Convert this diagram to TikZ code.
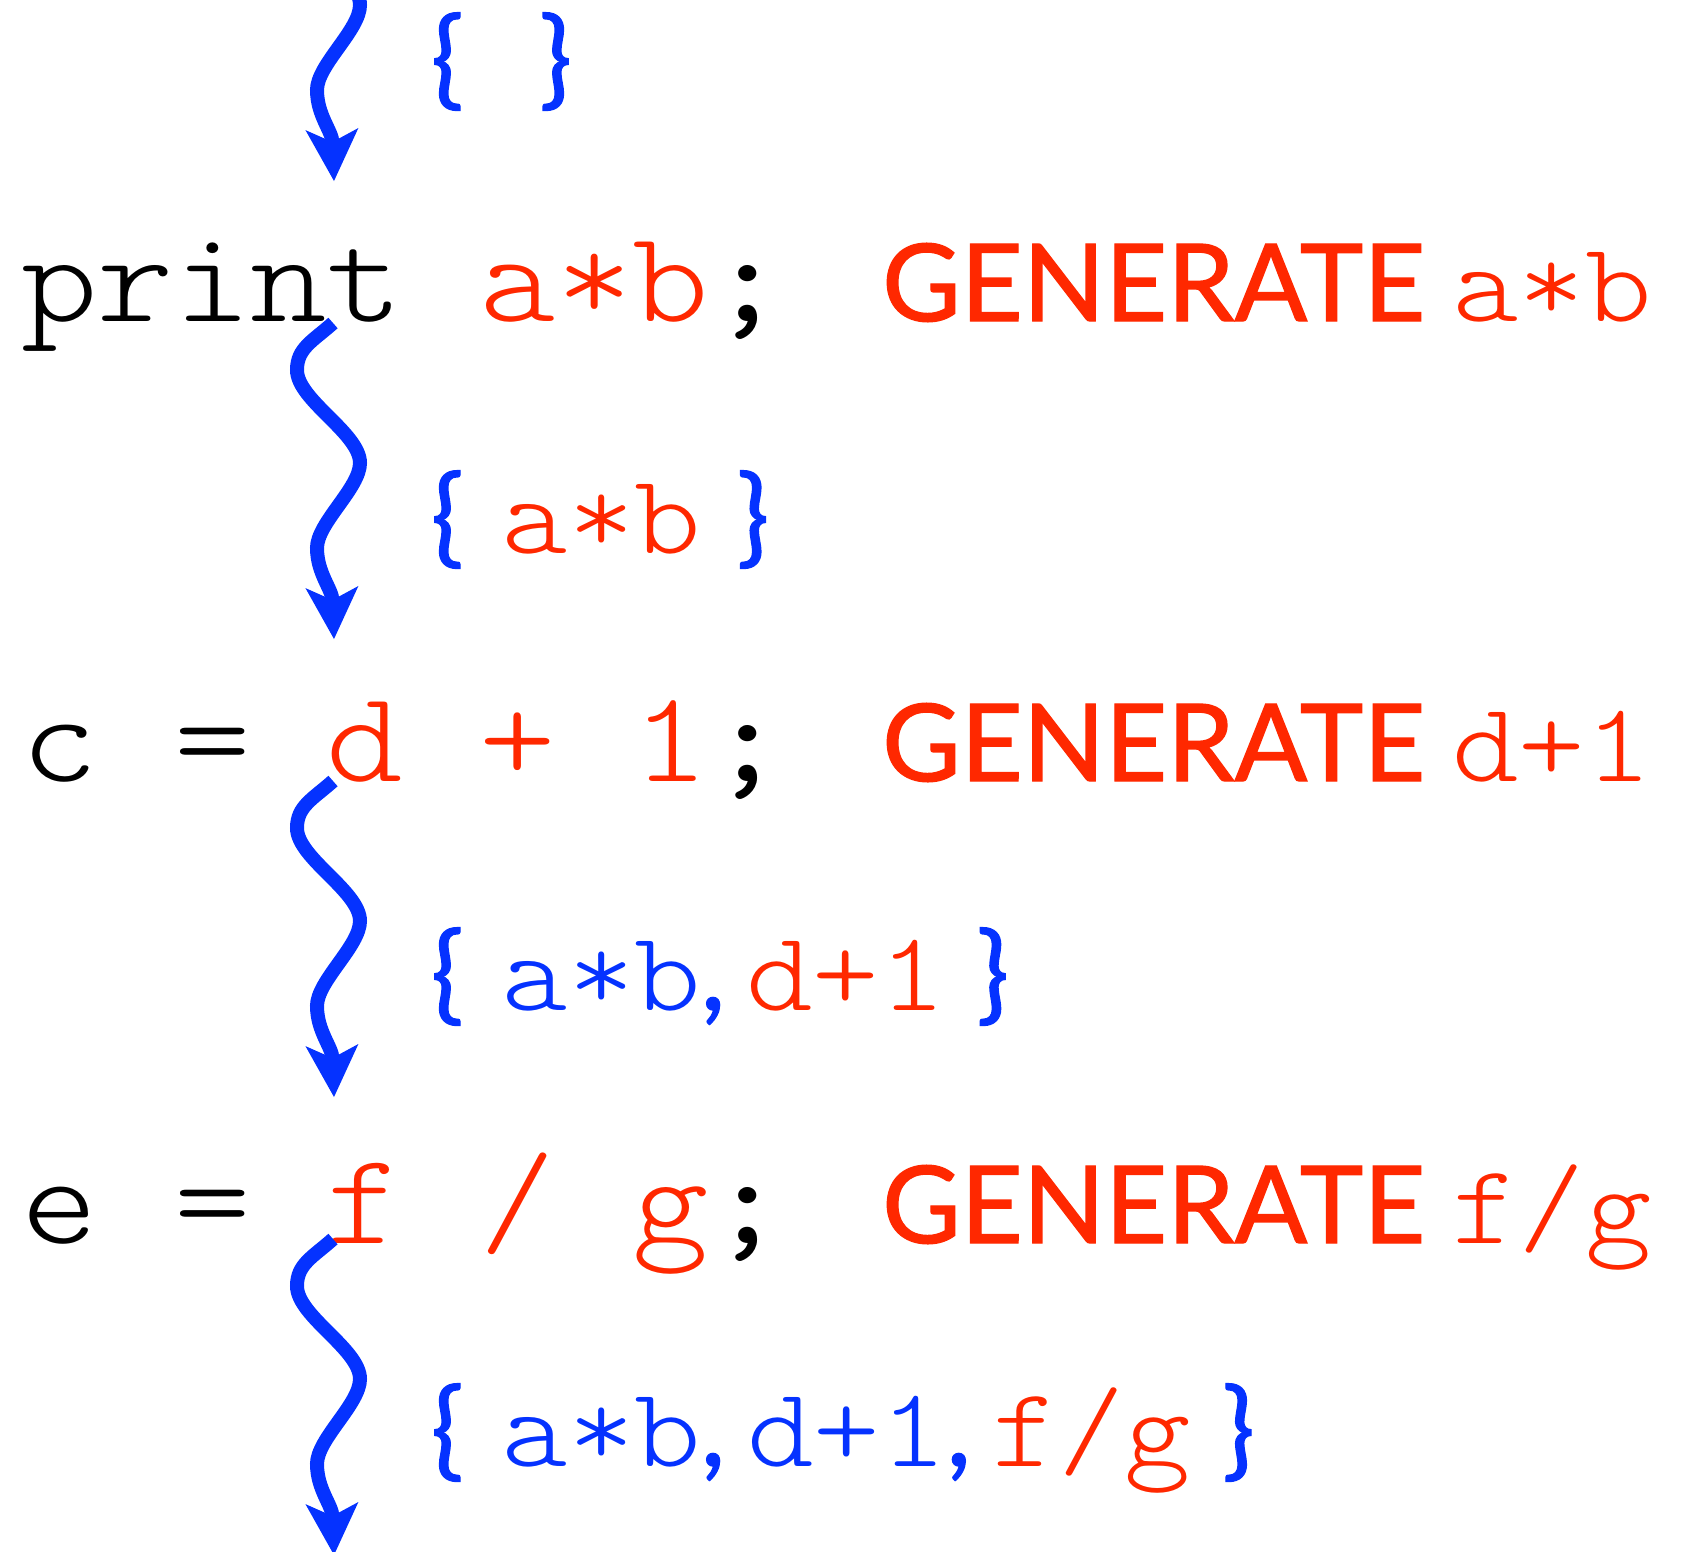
\documentclass[tikz,border=0pt]{standalone}
\usepackage{fontspec}
\usetikzlibrary{arrows.meta}
\newfontfamily\codefont[FakeStretch=1.12]{lmmonolt10-regular.otf}
\newfontfamily\punctfont[FakeStretch=1.12]{lmmono10-regular.otf}
\newfontfamily\gensans[FakeBold=1.2]{Lato}
\definecolor{flowblue}{RGB}{5,50,255}
\definecolor{exprred}{RGB}{255,40,0}
\newcommand\codeterm[1]{{\codefont\fontsize{113}{113}\selectfont #1}}

\begin{document}
\begin{tikzpicture}[x=1pt, y=-1pt,
  code/.style={font=\codefont\fontsize{130}{130}\selectfont, inner sep=0pt, anchor=base west},
  term/.style={font=\codefont\fontsize{113}{113}\selectfont, text=exprred, inner sep=0pt, anchor=base west},
  gen/.style={font=\gensans\fontsize{107.5}{107.5}\selectfont, text=exprred, inner sep=0pt, anchor=base west},
  avail/.style={font=\gensans\fontsize{107.5}{107.5}\selectfont, text=flowblue, inner sep=0pt, anchor=base west},
  flow/.style={draw=flowblue, line width=14pt, -{Stealth[length=52pt, width=53pt, inset=13pt, line width=0pt]}}
]
\useasboundingbox (0,0) rectangle (1682,1551);

\node[code] (row1) at (21,321) {print \textcolor{exprred}{a*b}{\punctfont;}};
\node[gen] (gen1) at (882,321) {GENERATE};
\node[term] (op1) at (1452,321) {a*b};

\node[code] (row2) at (21,781) {c = \textcolor{exprred}{d + 1}{\punctfont;}};
\node[gen] (gen2) at (882,781) {GENERATE};
\node[term] (op2) at (1452,781) {d+1};

\node[code] (row3) at (21,1243) {e = \textcolor{exprred}{f / g}{\punctfont;}};
\node[gen] (gen3) at (882,1243) {GENERATE};
\node[term] (op3) at (1452,1243) {f/g};

\node[avail] (set0) at (431,95) {\{\hspace{76pt}\}};
\node[avail] (set1) at (431,553) {\{\hspace{38pt}\codeterm{\textcolor{exprred}{a*b}}\hspace{36pt}\}};
\node[avail] (set2) at (431,1010) {\{\hspace{38pt}\codeterm{a*b},\hspace{21pt}\codeterm{\textcolor{exprred}{d+1}}\hspace{31pt}\}};
\node[avail] (set3) at (431,1466) {\{\hspace{38pt}\codeterm{a*b},\hspace{22pt}\codeterm{d+1},\hspace{21pt}\codeterm{\textcolor{exprred}{f/g}}\hspace{31pt}\}};

\begin{scope}
\clip (0,0) rectangle (1682,1551);
\foreach \y [count=\i] in {-135,323,781,1239} {
  \begin{scope}[shift={(333,\y)}]
    \coordinate (w\i) at (0,0);
    \coordinate (t\i) at (1,316);
    \draw[flow] (w\i) .. controls (-20,18) and (-36,25) .. (-36,47)
      .. controls (-36,77) and (27,110) .. (27,140)
      .. controls (27,165) and (-16,200) .. (-16,225)
      .. controls (-16,250) and (-1,266) .. (t\i);
  \end{scope}
}
\end{scope}
\end{tikzpicture}
\end{document}
